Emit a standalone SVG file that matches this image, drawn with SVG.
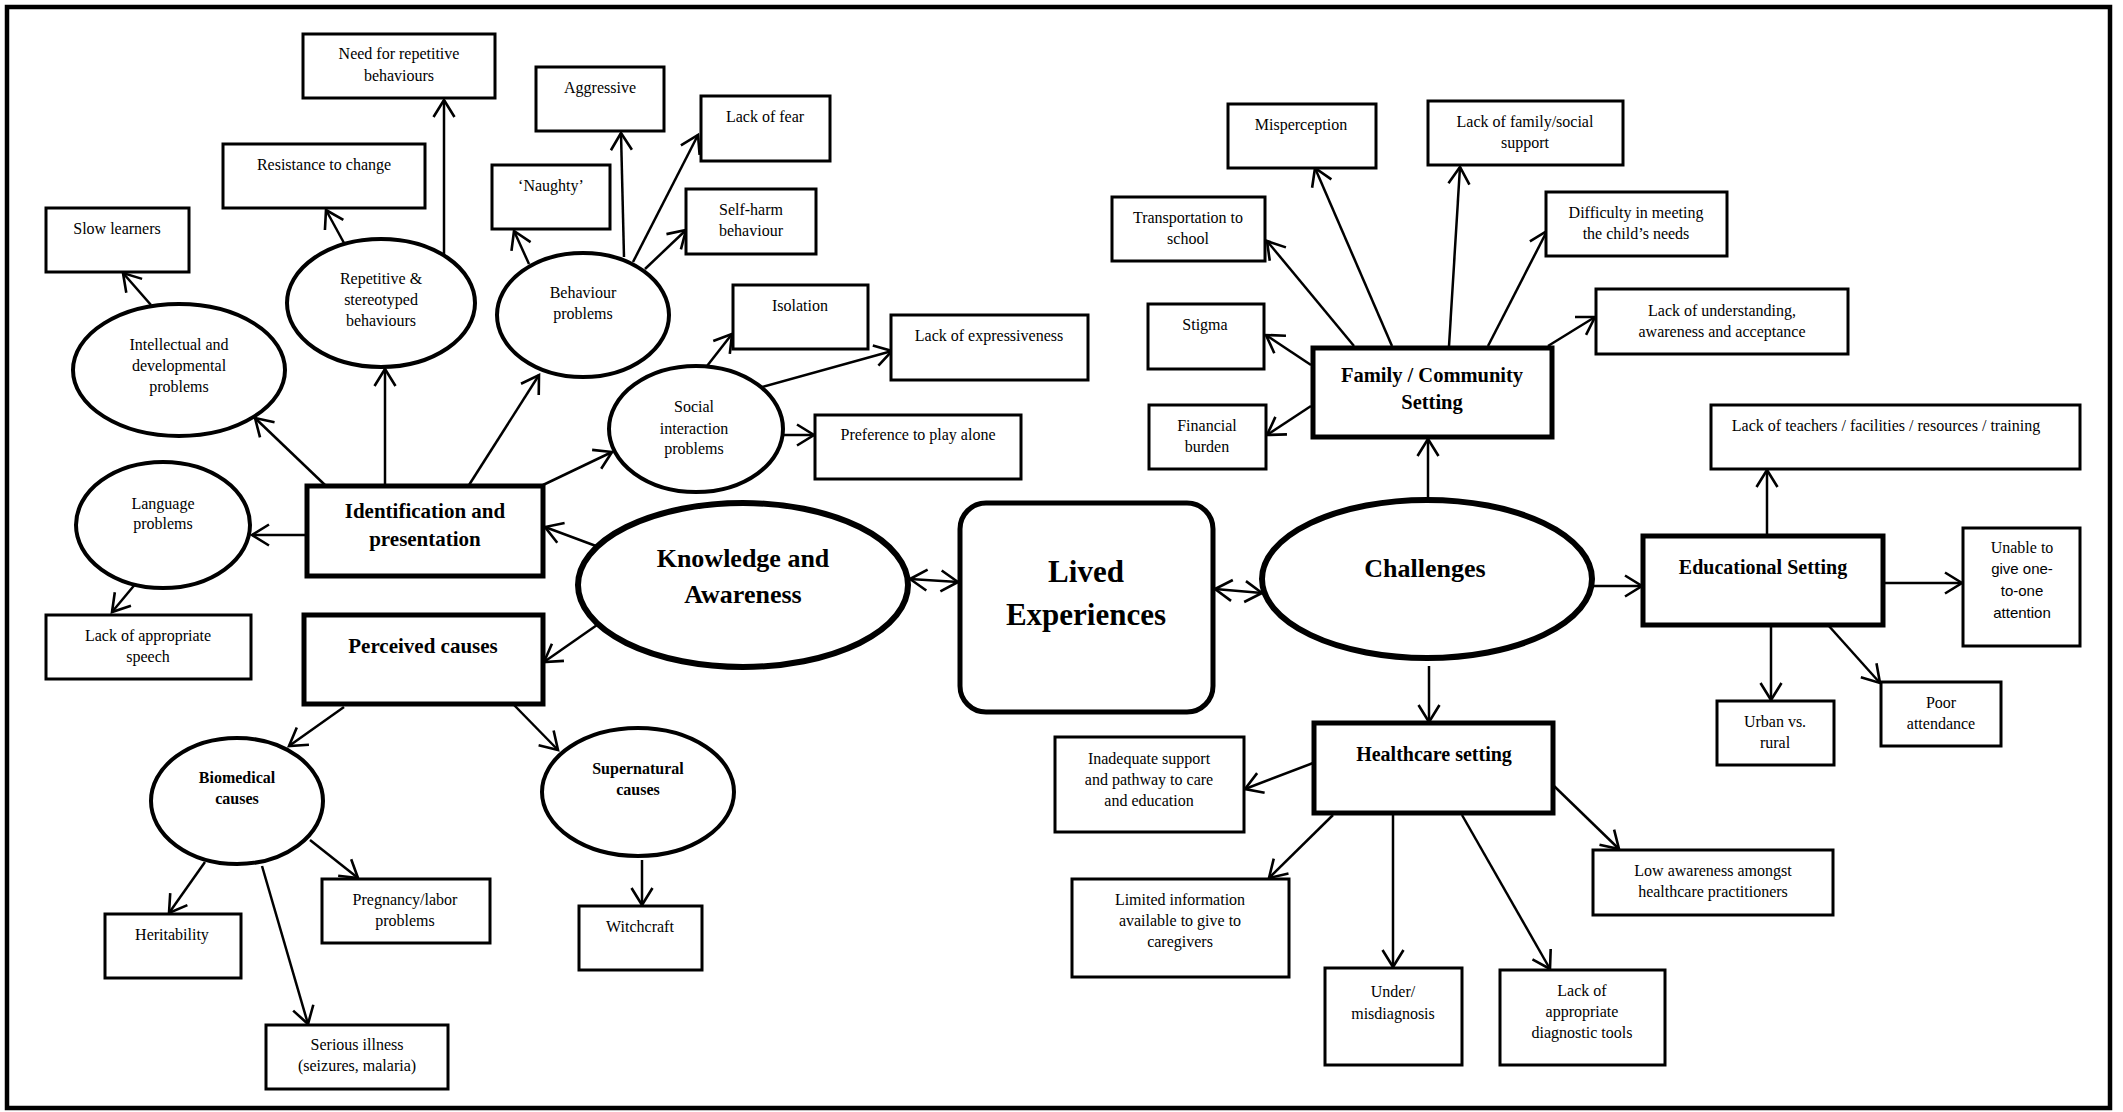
<svg xmlns="http://www.w3.org/2000/svg" width="2123" height="1112" viewBox="0 0 2123 1112">
<defs>
<marker id="ah" markerUnits="userSpaceOnUse" markerWidth="22" markerHeight="24" viewBox="0 0 22 24" refX="19" refY="12" orient="auto-start-reverse">
<path d="M2,1.5 L19,12 L2,22.5" fill="none" stroke="#000" stroke-width="2.6" stroke-linejoin="miter"/>
</marker>
</defs>
<style>
.bx{fill:#fff;stroke:#000;stroke-width:3}
.hb{fill:#fff;stroke:#000;stroke-width:5}
.el{fill:#fff;stroke:#000;stroke-width:4}
.eb{fill:#fff;stroke:#000;stroke-width:6}
.t{font-family:"Liberation Serif","Times New Roman",serif;font-size:16px;fill:#000;text-anchor:middle}
.ts{font-family:"Liberation Sans",Arial,sans-serif;font-size:15px;fill:#000;text-anchor:middle}
.tb{font-family:"Liberation Serif","Times New Roman",serif;font-size:16px;font-weight:bold;fill:#000;text-anchor:middle}
.h{font-family:"Liberation Serif","Times New Roman",serif;font-size:21px;font-weight:bold;fill:#000;text-anchor:middle}
.hk{font-family:"Liberation Serif","Times New Roman",serif;font-size:26px;font-weight:bold;fill:#000;text-anchor:middle}
.hl{font-family:"Liberation Serif","Times New Roman",serif;font-size:31px;font-weight:bold;fill:#000;text-anchor:middle}
.c line{stroke:#000;stroke-width:2.5;marker-end:url(#ah)}
.c line.d{marker-start:url(#ah)}
</style>
<rect x="7" y="7" width="2103" height="1101" fill="#fff" stroke="#000" stroke-width="4.5"/>

<g class="c" id="connectors">
<line x1="151" y1="305" x2="123" y2="273"/>
<line x1="344" y1="243" x2="326" y2="210"/>
<line x1="444" y1="255" x2="444" y2="100"/>
<line x1="529" y1="264" x2="514" y2="231"/>
<line x1="624" y1="257" x2="621" y2="133"/>
<line x1="633" y1="262" x2="698" y2="135"/>
<line x1="645" y1="269" x2="686" y2="230"/>
<line x1="325" y1="485" x2="255" y2="418"/>
<line x1="385" y1="485" x2="385" y2="369"/>
<line x1="469" y1="485" x2="539" y2="375"/>
<line x1="543" y1="485" x2="612" y2="452"/>
<line x1="305" y1="535" x2="252" y2="535"/>
<line x1="596" y1="546" x2="545" y2="527"/>
<line x1="707" y1="366" x2="732" y2="334"/>
<line x1="762" y1="387" x2="892" y2="351"/>
<line x1="782" y1="435" x2="814" y2="435"/>
<line x1="137" y1="582" x2="112" y2="612"/>
<line x1="597" y1="625" x2="544" y2="662"/>
<line x1="344" y1="707" x2="289" y2="746"/>
<line x1="514" y1="705" x2="558" y2="750"/>
<line x1="205" y1="862" x2="169" y2="913"/>
<line x1="310" y1="840" x2="358" y2="878"/>
<line x1="262" y1="866" x2="308" y2="1024"/>
<line x1="642" y1="860" x2="642" y2="905"/>
<line class="d" x1="910" y1="579" x2="958" y2="582"/>
<line class="d" x1="1215" y1="589" x2="1262" y2="593"/>
<line x1="1428" y1="500" x2="1428" y2="439"/>
<line x1="1354" y1="346" x2="1267" y2="241"/>
<line x1="1392" y1="346" x2="1315" y2="168"/>
<line x1="1311" y1="365" x2="1266" y2="335"/>
<line x1="1311" y1="406" x2="1267" y2="435"/>
<line x1="1449" y1="346" x2="1460" y2="167"/>
<line x1="1488" y1="346" x2="1547" y2="231"/>
<line x1="1548" y1="346" x2="1595" y2="317"/>
<line x1="1594" y1="586" x2="1642" y2="586"/>
<line x1="1767" y1="534" x2="1767" y2="470"/>
<line x1="1884" y1="583" x2="1962" y2="583"/>
<line x1="1771" y1="626" x2="1771" y2="700"/>
<line x1="1828" y1="625" x2="1880" y2="683"/>
<line x1="1429" y1="666" x2="1429" y2="722"/>
<line x1="1313" y1="763" x2="1245" y2="789"/>
<line x1="1333" y1="815" x2="1269" y2="878"/>
<line x1="1393" y1="815" x2="1393" y2="967"/>
<line x1="1554" y1="786" x2="1619" y2="849"/>
<line x1="1462" y1="815" x2="1550" y2="969"/>
</g>

<g id="need"><rect class="bx" x="303" y="34" width="192" height="64"/><text class="t" x="399" y="59">Need for repetitive</text><text class="t" x="399" y="81">behaviours</text></g>
<g id="aggressive"><rect class="bx" x="536" y="67" width="128" height="64"/><text class="t" x="600" y="93">Aggressive</text></g>
<g id="lackfear"><rect class="bx" x="701" y="96" width="129" height="65"/><text class="t" x="765" y="122">Lack of fear</text></g>
<g id="selfharm"><rect class="bx" x="686" y="189" width="130" height="65"/><text class="t" x="751" y="215">Self-harm</text><text class="t" x="751" y="236">behaviour</text></g>
<g id="resistance"><rect class="bx" x="223" y="144" width="202" height="64"/><text class="t" x="324" y="170">Resistance to change</text></g>
<g id="naughty"><rect class="bx" x="492" y="165" width="118" height="64"/><text class="t" x="551" y="191">‘Naughty’</text></g>
<g id="slow"><rect class="bx" x="46" y="208" width="143" height="64"/><text class="t" x="117" y="234">Slow learners</text></g>
<g id="isolation"><rect class="bx" x="733" y="285" width="135" height="64"/><text class="t" x="800" y="311">Isolation</text></g>
<g id="lackexpr"><rect class="bx" x="891" y="315" width="197" height="65"/><text class="t" x="989" y="341">Lack of expressiveness</text></g>
<g id="preference"><rect class="bx" x="815" y="415" width="206" height="64"/><text class="t" x="918" y="440">Preference to play alone</text></g>
<g id="lackspeech"><rect class="bx" x="46" y="615" width="205" height="64"/><text class="t" x="148" y="641">Lack of appropriate</text><text class="t" x="148" y="662">speech</text></g>
<g id="heritability"><rect class="bx" x="105" y="914" width="136" height="64"/><text class="t" x="172" y="940">Heritability</text></g>
<g id="pregnancy"><rect class="bx" x="322" y="879" width="168" height="64"/><text class="t" x="405" y="905">Pregnancy/labor</text><text class="t" x="405" y="926">problems</text></g>
<g id="serious"><rect class="bx" x="266" y="1025" width="182" height="64"/><text class="t" x="357" y="1050">Serious illness</text><text class="t" x="357" y="1071">(seizures, malaria)</text></g>
<g id="witchcraft"><rect class="bx" x="579" y="906" width="123" height="64"/><text class="t" x="640" y="932">Witchcraft</text></g>
<g id="misperception"><rect class="bx" x="1228" y="104" width="148" height="64"/><text class="t" x="1301" y="130">Misperception</text></g>
<g id="transport"><rect class="bx" x="1112" y="197" width="153" height="64"/><text class="t" x="1188" y="223">Transportation to</text><text class="t" x="1188" y="244">school</text></g>
<g id="stigma"><rect class="bx" x="1148" y="304" width="116" height="65"/><text class="t" x="1205" y="330">Stigma</text></g>
<g id="financial"><rect class="bx" x="1149" y="405" width="117" height="64"/><text class="t" x="1207" y="431">Financial</text><text class="t" x="1207" y="452">burden</text></g>
<g id="lackfamily"><rect class="bx" x="1428" y="101" width="195" height="64"/><text class="t" x="1525" y="127">Lack of family/social</text><text class="t" x="1525" y="148">support</text></g>
<g id="difficulty"><rect class="bx" x="1546" y="192" width="181" height="64"/><text class="t" x="1636" y="218">Difficulty in meeting</text><text class="t" x="1636" y="239">the child’s needs</text></g>
<g id="lackunder"><rect class="bx" x="1596" y="289" width="252" height="65"/><text class="t" x="1722" y="316">Lack of understanding,</text><text class="t" x="1722" y="337">awareness and acceptance</text></g>
<g id="lackteach"><rect class="bx" x="1711" y="405" width="369" height="64"/><text class="t" x="1886" y="431">Lack of teachers / facilities / resources / training</text></g>
<g id="unable"><rect class="bx" x="1963" y="528" width="117" height="118"/><text class="t" x="2022" y="553">Unable to</text><text class="ts" x="2022" y="574">give one-</text><text class="ts" x="2022" y="596">to-one</text><text class="ts" x="2022" y="618">attention</text></g>
<g id="urban"><rect class="bx" x="1717" y="701" width="117" height="64"/><text class="t" x="1775" y="727">Urban vs.</text><text class="t" x="1775" y="748">rural</text></g>
<g id="poor"><rect class="bx" x="1881" y="682" width="120" height="64"/><text class="t" x="1941" y="708">Poor</text><text class="t" x="1941" y="729">attendance</text></g>
<g id="inadequate"><rect class="bx" x="1055" y="737" width="189" height="95"/><text class="t" x="1149" y="764">Inadequate support</text><text class="t" x="1149" y="785">and pathway to care</text><text class="t" x="1149" y="806">and education</text></g>
<g id="limited"><rect class="bx" x="1072" y="879" width="217" height="98"/><text class="t" x="1180" y="905">Limited information</text><text class="t" x="1180" y="926">available to give to</text><text class="t" x="1180" y="947">caregivers</text></g>
<g id="under"><rect class="bx" x="1325" y="968" width="137" height="97"/><text class="t" x="1393" y="997">Under/</text><text class="t" x="1393" y="1019">misdiagnosis</text></g>
<g id="lackdiag"><rect class="bx" x="1500" y="970" width="165" height="95"/><text class="t" x="1582" y="996">Lack of</text><text class="t" x="1582" y="1017">appropriate</text><text class="t" x="1582" y="1038">diagnostic tools</text></g>
<g id="lowaware"><rect class="bx" x="1593" y="850" width="240" height="65"/><text class="t" x="1713" y="876">Low awareness amongst</text><text class="t" x="1713" y="897">healthcare practitioners</text></g>

<g id="intellectual"><ellipse class="el" cx="179" cy="370" rx="106" ry="66"/><text class="t" x="179" y="350">Intellectual and</text><text class="t" x="179" y="371">developmental</text><text class="t" x="179" y="392">problems</text></g>
<g id="repetitive"><ellipse class="el" cx="381" cy="303" rx="94" ry="64"/><text class="t" x="381" y="284">Repetitive &amp;</text><text class="t" x="381" y="305">stereotyped</text><text class="t" x="381" y="326">behaviours</text></g>
<g id="behaviour"><ellipse class="el" cx="583" cy="315" rx="86" ry="62"/><text class="t" x="583" y="298">Behaviour</text><text class="t" x="583" y="319">problems</text></g>
<g id="social"><ellipse class="el" cx="696" cy="429" rx="87" ry="63"/><text class="t" x="694" y="412">Social</text><text class="t" x="694" y="434">interaction</text><text class="t" x="694" y="454">problems</text></g>
<g id="language"><ellipse class="el" cx="163" cy="525" rx="87" ry="63"/><text class="t" x="163" y="509">Language</text><text class="t" x="163" y="529">problems</text></g>
<g id="biomedical"><ellipse class="el" cx="237" cy="801" rx="86" ry="63"/><text class="tb" x="237" y="783">Biomedical</text><text class="tb" x="237" y="804">causes</text></g>
<g id="supernatural"><ellipse class="el" cx="638" cy="792" rx="96" ry="64"/><text class="tb" x="638" y="774">Supernatural</text><text class="tb" x="638" y="795">causes</text></g>

<g id="knowledge"><ellipse class="eb" cx="743" cy="585" rx="165" ry="82"/><text class="hk" x="743" y="567">Knowledge and</text><text class="hk" x="743" y="603">Awareness</text></g>
<g id="challenges"><ellipse class="eb" cx="1427" cy="579" rx="165" ry="79"/><text class="hk" x="1425" y="577">Challenges</text></g>

<g id="identification"><rect class="hb" x="307" y="486" width="236" height="90"/><text class="h" x="425" y="518">Identification and</text><text class="h" x="425" y="546">presentation</text></g>
<g id="perceived"><rect class="hb" x="304" y="615" width="239" height="89"/><text class="h" x="423" y="653">Perceived causes</text></g>
<g id="family"><rect class="hb" x="1313" y="348" width="239" height="89"/><text class="h" x="1432" y="382" style="font-size:20.5px">Family / Community</text><text class="h" x="1432" y="409" style="font-size:20.5px">Setting</text></g>
<g id="educational"><rect class="hb" x="1643" y="536" width="240" height="89"/><text class="h" x="1763" y="574" style="font-size:20px">Educational Setting</text></g>
<g id="healthcare"><rect class="hb" x="1314" y="723" width="239" height="90"/><text class="h" x="1434" y="761" style="font-size:20px">Healthcare setting</text></g>
<g id="lived"><rect class="hb" x="960" y="503" width="253" height="209" rx="26" ry="26"/><text class="hl" x="1086" y="582">Lived</text><text class="hl" x="1086" y="625">Experiences</text></g>
</svg>
